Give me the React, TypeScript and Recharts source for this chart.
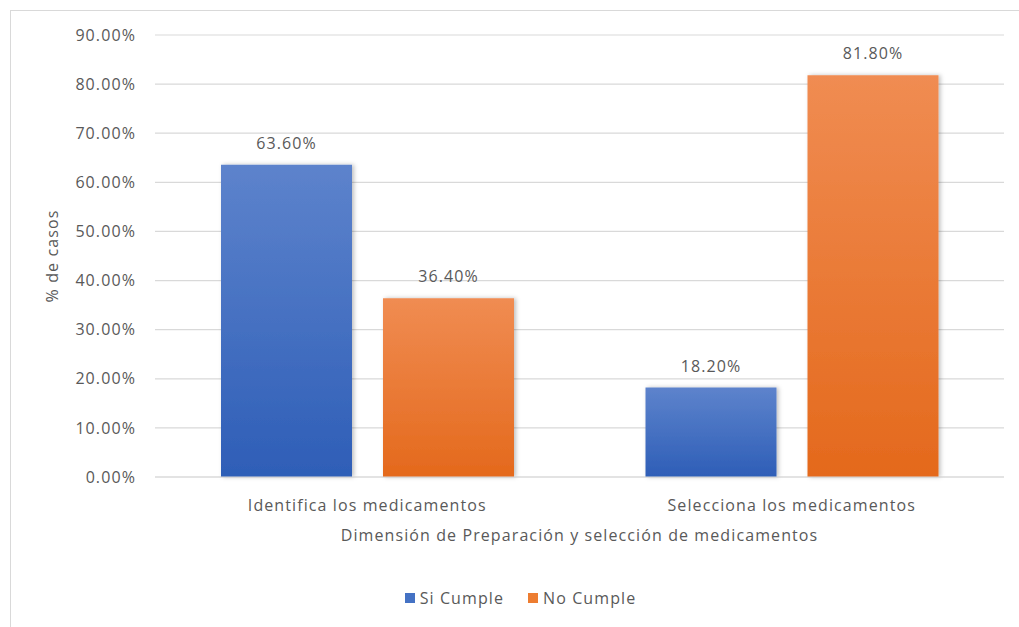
import { BarChart, Bar, XAxis, YAxis, CartesianGrid, LabelList, Label } from "recharts";

const categories = ["Identifica los medicamentos", "Selecciona los medicamentos"];
const siCumple = [63.6, 18.2];
const noCumple = [36.4, 81.8];
const yTicks = [0, 10, 20, 30, 40, 50, 60, 70, 80, 90];

const FONT = "'Open Sans', 'Noto Sans', sans-serif";
const TEXT = "#595959";
const txt = { fill: TEXT, fontSize: 16, fontFamily: FONT, letterSpacing: 1.1 };

const data = categories.map((c, i) => ({ name: c, si: siCumple[i], no: noCumple[i] }));

const fmt = (v: number) => `${v.toFixed(2)}%`;

export default function App() {
  return (
    <div
      style={{
        position: "fixed",
        left: 0,
        top: 0,
        width: 1019,
        height: 627,
        overflow: "hidden",
        background: "#fff",
        fontFamily: FONT,
      }}
    >
      {/* chart frame, runs off right and bottom */}
      <div
        style={{
          position: "absolute",
          left: 10,
          top: 10,
          width: 1030,
          height: 650,
          border: "1px solid #d9d9d9",
        }}
      />
      <div style={{ position: "absolute", left: 0, top: 0 }}>
        <BarChart
          width={1019}
          height={627}
          data={data}
          margin={{ top: 35, right: 15, bottom: 0, left: 40 }}
          barCategoryGap="15.3%"
          barGap={31}
        >
          <defs>
            <linearGradient id="gBlue" x1="0" y1="0" x2="0" y2="1">
              <stop offset="0%" stopColor="#5d83cc" />
              <stop offset="100%" stopColor="#2e5eb7" />
            </linearGradient>
            <linearGradient id="gOrange" x1="0" y1="0" x2="0" y2="1">
              <stop offset="0%" stopColor="#f08c52" />
              <stop offset="100%" stopColor="#e4691c" />
            </linearGradient>
            <filter id="shadow" x="-10%" y="-10%" width="130%" height="120%">
              <feDropShadow dx="2" dy="0" stdDeviation="2" floodColor="#000" floodOpacity="0.25" />
            </filter>
          </defs>
          <CartesianGrid vertical={false} stroke="#d9d9d9" strokeWidth={1.2} />
          <XAxis
            dataKey="name"
            height={150}
            axisLine={{ stroke: "#d9d9d9", strokeWidth: 1.2 }}
            tickLine={false}
            tick={txt}
            tickMargin={17}
          >
            <Label
              value="Dimensión de Preparación y selección de medicamentos"
              position="insideTop"
              offset={53}
              style={{ ...txt, textAnchor: "middle" }}
            />
          </XAxis>
          <YAxis
            domain={[0, 90]}
            ticks={yTicks}
            interval={0}
            width={115}
            axisLine={false}
            tickLine={false}
            tickFormatter={fmt}
            tick={txt}
            tickMargin={13}
          >
            <Label
              value="% de casos"
              angle={-90}
              position="insideLeft"
              offset={12}
              style={{ ...txt, textAnchor: "middle" }}
            />
          </YAxis>
          <Bar dataKey="si" name="Si Cumple" fill="url(#gBlue)" barSize={131} isAnimationActive={false} filter="url(#shadow)">
            <LabelList dataKey="si" position="top" offset={16} formatter={(v: number) => fmt(v)} style={txt} />
          </Bar>
          <Bar dataKey="no" name="No Cumple" fill="url(#gOrange)" barSize={131} isAnimationActive={false} filter="url(#shadow)">
            <LabelList dataKey="no" position="top" offset={16} formatter={(v: number) => fmt(v)} style={txt} />
          </Bar>
        </BarChart>
      </div>
      {/* legend */}
      <div
        style={{
          position: "absolute",
          left: 0,
          top: 587,
          width: 1019,
          display: "flex",
          justifyContent: "center",
          gap: 24,
          fontSize: 16,
          letterSpacing: 1.1,
          color: TEXT,
          marginLeft: 11,
        }}
      >
        <span style={{ display: "flex", alignItems: "center", gap: 5 }}>
          <span style={{ width: 10, height: 10, background: "#4472c4", display: "inline-block" }} />
          Si Cumple
        </span>
        <span style={{ display: "flex", alignItems: "center", gap: 5 }}>
          <span style={{ width: 10, height: 10, background: "#ed7d31", display: "inline-block" }} />
          No Cumple
        </span>
      </div>
    </div>
  );
}
